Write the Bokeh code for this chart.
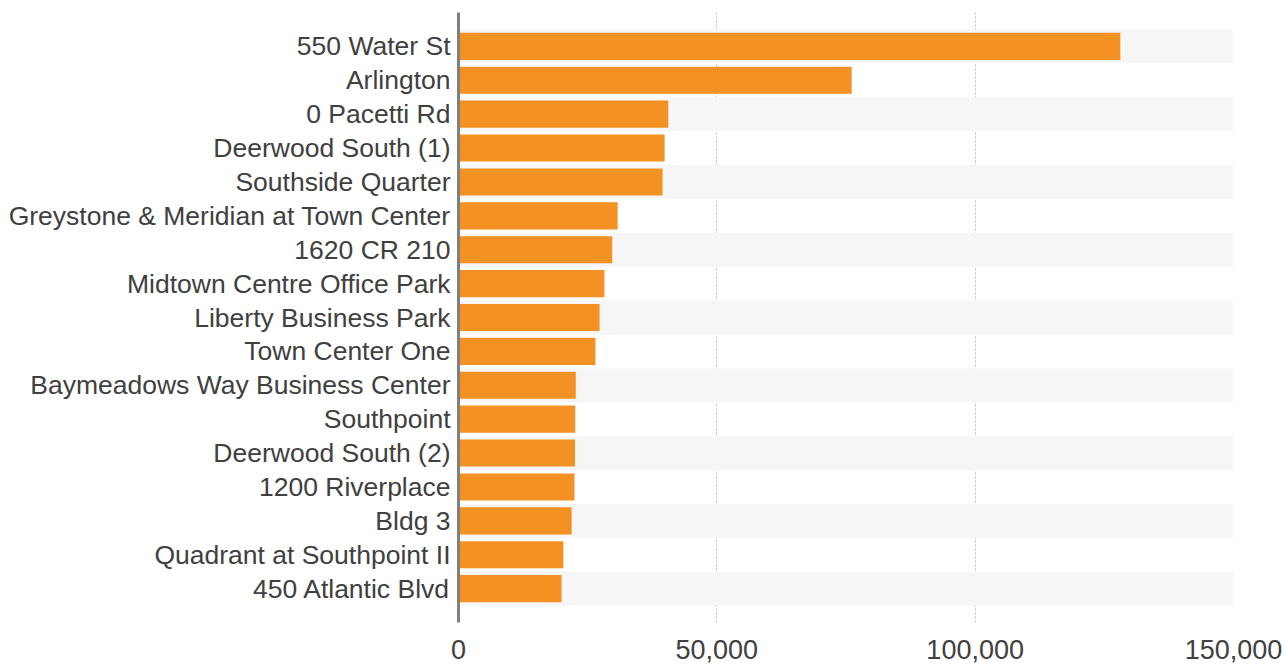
from bokeh.plotting import figure
from bokeh.models import FactorRange, Range1d, FixedTicker, NumeralTickFormatter
from bokeh.embed import file_html
from bokeh.resources import INLINE

names = ["550 Water St", "Arlington", "0 Pacetti Rd", "Deerwood South (1)",
         "Southside Quarter", "Greystone & Meridian at Town Center", "1620 CR 210",
         "Midtown Centre Office Park", "Liberty Business Park", "Town Center One",
         "Baymeadows Way Business Center", "Southpoint", "Deerwood South (2)",
         "1200 Riverplace", "Bldg 3", "Quadrant at Southpoint II", "450 Atlantic Blvd"]
values = [128100, 76100, 40600, 39900, 39500, 30800, 29750, 28250, 27300, 26500,
          22700, 22600, 22550, 22450, 21900, 20300, 19950]
x_ticks = [0, 50000, 100000, 150000]
band_end = 150000

factors = list(reversed(names))

p = figure(width=1287, height=664, output_backend="svg", toolbar_location=None,
           y_range=FactorRange(factors=factors, range_padding=0.5, range_padding_units="absolute"),
           x_range=Range1d(0, 150000),
           min_border_left=458, min_border_right=54, min_border_top=12, min_border_bottom=42)
p.outline_line_color = None
p.background_fill_color = "white"
p.border_fill_color = "white"

# alternating bands
band_names = [n for i, n in enumerate(names) if i % 2 == 0]
p.hbar(y=band_names, left=0, right=band_end, height=1.0, fill_color="#F6F6F6", line_color=None)

p.hbar(y=names, left=0, right=values, height=0.8, fill_color="#F39123", line_color=None)

p.ygrid.grid_line_color = None
p.xgrid.ticker = FixedTicker(ticks=x_ticks[1:])
p.xgrid.grid_line_color = "#BBBBBB"
p.xgrid.grid_line_dash = "2 2"
p.xgrid.grid_line_width = 1

p.xaxis.ticker = FixedTicker(ticks=x_ticks)
p.xaxis.formatter = NumeralTickFormatter(format="0,0")
p.xaxis.axis_line_color = None
p.xaxis.major_tick_line_color = None
p.xaxis.minor_tick_line_color = None
p.xaxis.major_label_text_font = "Liberation Sans"
p.xaxis.major_label_text_font_size = "27px"
p.xaxis.major_label_text_color = "#404040"
p.xaxis.major_label_standoff = 11

p.yaxis.axis_line_color = "#808080"
p.yaxis.axis_line_width = 3
p.yaxis.major_tick_line_color = None
p.yaxis.minor_tick_line_color = None
p.yaxis.major_label_text_font = "Liberation Sans"
p.yaxis.major_label_text_font_size = "26.5px"
p.yaxis.major_label_text_color = "#404040"
p.yaxis.major_label_standoff = 2

open("out.html", "w").write(file_html(p, INLINE))
